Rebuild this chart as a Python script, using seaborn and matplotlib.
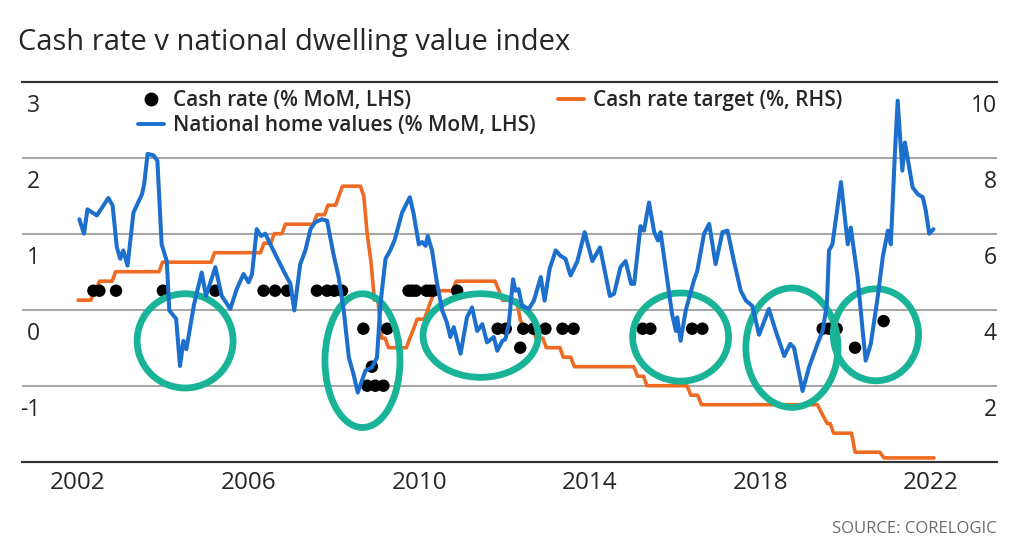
import numpy as np
import pandas as pd
import matplotlib
matplotlib.use("Agg")
import matplotlib.pyplot as plt
from matplotlib.patches import Ellipse
from matplotlib.lines import Line2D
import seaborn as sns

# ---------------- data ----------------
title = "Cash rate v national dwelling value index"
source = "SOURCE: CORELOGIC"
label_dots = "Cash rate (% MoM, LHS)"
label_home = "National home values (% MoM, LHS)"
label_target = "Cash rate target (%, RHS)"

x_ticks = [2002, 2006, 2010, 2014, 2018, 2022]
left_ticks = [3, 2, 1, 0, -1]
right_ticks = [10, 8, 6, 4, 2]

home_dates = [2002.03, 2002.14, 2002.22, 2002.44, 2002.71, 2002.81, 2002.91, 2002.99, 2003.06, 2003.16,
              2003.30, 2003.50, 2003.55, 2003.63, 2003.77, 2003.86, 2003.96, 2004.08, 2004.14, 2004.30,
              2004.39, 2004.47, 2004.54, 2004.72, 2004.90, 2005.00, 2005.22, 2005.37, 2005.57, 2005.72,
              2005.88, 2006.00, 2006.08, 2006.19, 2006.29, 2006.39, 2006.58, 2006.82, 2006.98, 2007.07,
              2007.21, 2007.33, 2007.45, 2007.56, 2007.72, 2007.84, 2007.99, 2008.11, 2008.23, 2008.35,
              2008.46, 2008.56, 2008.74, 2008.89, 2009.01, 2009.09, 2009.21, 2009.32, 2009.42, 2009.60,
              2009.78, 2009.87, 2009.99, 2010.07, 2010.15, 2010.20, 2010.30, 2010.42, 2010.54, 2010.65,
              2010.73, 2010.81, 2010.97, 2011.12, 2011.24, 2011.36, 2011.48, 2011.59, 2011.75, 2011.83,
              2011.95, 2012.02, 2012.10, 2012.20, 2012.26, 2012.33, 2012.41, 2012.57, 2012.69, 2012.85,
              2012.94, 2013.06, 2013.20, 2013.31, 2013.43, 2013.55, 2013.71, 2013.88, 2014.06, 2014.24,
              2014.47, 2014.57, 2014.72, 2014.84, 2014.97, 2015.04, 2015.19, 2015.27, 2015.39, 2015.51,
              2015.60, 2015.66, 2015.82, 2015.93, 2016.02, 2016.05, 2016.13, 2016.25, 2016.44, 2016.52,
              2016.68, 2016.80, 2016.95, 2017.11, 2017.23, 2017.38, 2017.54, 2017.66, 2017.81, 2017.97,
              2018.20, 2018.36, 2018.56, 2018.70, 2018.79, 2018.99, 2019.14, 2019.34, 2019.46, 2019.56,
              2019.61, 2019.69, 2019.89, 2020.05, 2020.12, 2020.28, 2020.40, 2020.47, 2020.59, 2020.75,
              2020.87, 2020.99, 2021.06, 2021.15, 2021.22, 2021.33, 2021.39, 2021.57, 2021.69, 2021.81,
              2021.88, 2021.96, 2022.06]
home_values = [1.19, 1.00, 1.32, 1.24, 1.47, 1.37, 0.82, 0.67, 0.78, 0.58,
               1.28, 1.52, 1.65, 2.05, 2.03, 1.96, 0.86, 0.64, -0.01, -0.12,
               -0.74, -0.41, -0.52, 0.07, 0.49, 0.18, 0.56, 0.18, 0.01, 0.27,
               0.47, 0.36, 0.47, 1.06, 0.97, 1.00, 0.78, 0.51, 0.34, -0.01,
               0.60, 0.78, 1.06, 1.15, 1.19, 1.17, 0.73, 0.43, -0.01, -0.63,
               -0.85, -1.09, -0.80, -0.76, -0.63, 0.07, 0.67, 0.78, 0.91, 1.28,
               1.48, 1.26, 0.86, 0.89, 0.84, 0.97, 0.78, 0.34, -0.01, -0.17,
               -0.36, -0.23, -0.58, -0.10, 0.03, -0.28, -0.19, -0.43, -0.36, -0.54,
               -0.41, -0.39, -0.19, 0.40, 0.25, 0.27, 0.05, 0.01, 0.12, 0.43,
               0.12, 0.54, 0.78, 0.71, 0.67, 0.45, 0.64, 1.02, 0.64, 0.82,
               0.18, 0.21, 0.56, 0.64, 0.34, 0.34, 1.10, 1.04, 1.41, 1.02,
               0.91, 1.02, 0.38, -0.06, -0.28, -0.10, -0.41, -0.01, 0.38, 0.51,
               1.00, 1.13, 0.60, 1.02, 1.04, 0.64, 0.25, 0.12, 0.05, -0.33,
               0.01, -0.28, -0.61, -0.45, -0.50, -1.07, -0.76, -0.45, -0.28, 0.07,
               0.78, 0.86, 1.68, 0.86, 1.08, 0.43, -0.28, -0.67, -0.45, 0.16,
               0.69, 1.04, 0.86, 2.00, 2.75, 1.83, 2.20, 1.61, 1.52, 1.48,
               1.30, 1.00, 1.06]

cash_dates = [2002.36, 2002.50, 2002.89, 2003.99, 2005.22, 2006.35, 2006.62, 2006.90, 2007.60, 2007.84,
              2008.01, 2008.19, 2008.69, 2008.78, 2008.89, 2008.97, 2009.16, 2009.25, 2009.75, 2009.83,
              2009.92, 2010.17, 2010.25, 2010.33, 2010.89, 2011.84, 2012.03, 2012.37, 2012.44, 2012.68,
              2012.96, 2013.36, 2013.62, 2015.24, 2015.42, 2016.40, 2016.64, 2019.46, 2019.61, 2019.79,
              2020.22, 2020.89]
cash_changes = [0.25, 0.25, 0.25, 0.25, 0.25, 0.25, 0.25, 0.25, 0.25, 0.25,
                0.25, 0.25, -0.25, -1.0, -0.75, -1.0, -1.0, -0.25, 0.25, 0.25,
                0.25, 0.25, 0.25, 0.25, 0.25, -0.25, -0.25, -0.5, -0.25, -0.25,
                -0.25, -0.25, -0.25, -0.25, -0.25, -0.25, -0.25, -0.25, -0.25, -0.25,
                -0.5, -0.15]

target_dates = [2002.00, 2002.30, 2002.38, 2002.42, 2002.50, 2002.80, 2002.88, 2003.90, 2003.98, 2005.12,
                2005.20, 2006.28, 2006.36, 2006.52, 2006.60, 2006.78, 2006.86, 2007.52, 2007.60, 2007.78,
                2007.86, 2008.04, 2008.12, 2008.20, 2008.62, 2008.70, 2008.78, 2008.87, 2008.95, 2009.03,
                2009.12, 2009.20, 2009.28, 2009.70, 2009.78, 2009.87, 2009.95, 2010.12, 2010.20, 2010.28,
                2010.37, 2010.78, 2010.87, 2011.78, 2011.87, 2011.95, 2012.28, 2012.37, 2012.45, 2012.66,
                2012.74, 2012.90, 2012.98, 2013.30, 2013.38, 2013.55, 2013.64, 2015.03, 2015.12, 2015.26,
                2015.34, 2016.28, 2016.37, 2016.53, 2016.62, 2019.34, 2019.45, 2019.57, 2019.64, 2019.72,
                2020.14, 2020.22, 2020.80, 2020.90, 2022.07]
target_values = [4.25, 4.25, 4.5, 4.5, 4.75, 4.75, 5.0, 5.0, 5.25, 5.25,
                 5.5, 5.5, 5.75, 5.75, 6.0, 6.0, 6.25, 6.25, 6.5, 6.5,
                 6.75, 6.75, 7.0, 7.25, 7.25, 7.0, 6.0, 5.25, 4.25, 4.25,
                 3.25, 3.25, 3.0, 3.0, 3.25, 3.5, 3.75, 3.75, 4.0, 4.25,
                 4.5, 4.5, 4.75, 4.75, 4.5, 4.25, 4.25, 3.75, 3.5, 3.5,
                 3.25, 3.25, 3.0, 3.0, 2.75, 2.75, 2.5, 2.5, 2.25, 2.25,
                 2.0, 2.0, 1.75, 1.75, 1.5, 1.5, 1.25, 1.0, 1.0, 0.75,
                 0.75, 0.25, 0.25, 0.1, 0.1]

# highlight rings (centre year, centre LHS value, width in years, height in LHS units)
ring_x = [2004.51, 2008.67, 2011.44, 2016.13, 2018.74, 2020.71]
ring_y = [-0.41, -0.67, -0.34, -0.36, -0.50, -0.33]
ring_w = [2.25, 1.76, 2.70, 2.25, 2.16, 2.00]
ring_h = [1.24, 1.76, 1.10, 1.16, 1.57, 1.21]

# ---------------- style ----------------
BLUE = "#1c6fcd"
ORANGE = "#ef6a22"
TEAL = "#19b498"
TXT = "#262626"

sns.set_style("white")
plt.rcParams["font.family"] = ["Open Sans", "DejaVu Sans"]

W, H = 1024, 552
fig = plt.figure(figsize=(W / 100, H / 100), dpi=100)
ax_l, ax_r, ax_t, ax_b = 22, 997, 81.7, 461.7
ax = fig.add_axes([ax_l / W, 1 - ax_b / H, (ax_r - ax_l) / W, (ax_b - ax_t) / H])
ax2 = ax.twinx()
ax.set_zorder(ax2.get_zorder() + 1)
ax.patch.set_visible(False)

home_df = pd.DataFrame({"date": home_dates, "value": home_values})
cash_df = pd.DataFrame({"date": cash_dates, "change": cash_changes})
target_df = pd.DataFrame({"date": target_dates, "rate": target_values})

# RHS: cash rate target
sns.lineplot(data=target_df, x="date", y="rate", ax=ax2, color=ORANGE, lw=2.6,
             estimator=None, sort=False, legend=False)
# LHS: dots, rings, home values
sns.scatterplot(data=cash_df, x="date", y="change", ax=ax, color="black", s=80,
                edgecolor="none", zorder=3, legend=False)
for cx, cy, w, h in zip(ring_x, ring_y, ring_w, ring_h):
    ax.add_patch(Ellipse((cx, cy), w, h, fill=False, edgecolor=TEAL, lw=4.9, zorder=4))
sns.lineplot(data=home_df, x="date", y="value", ax=ax, color=BLUE, lw=2.9,
             estimator=None, sort=False, legend=False, zorder=5)

xmin = 2002 - (78 - ax_l) / 42.6
xmax = 2022 + (ax_r - 931) / 42.6
ax.set_xlim(xmin, xmax)
ax.set_ylim(-2, 3)
ax2.set_ylim(0, 10)

# grid
ax2.set_yticks([0, 2, 4, 6, 8, 10])
ax2.set_xticks(x_ticks)
ax2.grid(axis="y", color="#8c8c8c", lw=1.1)
ax2.grid(axis="x", color="#9a9a9a", lw=1.5, linestyle=(0, (0.8, 3.2)))
ax.grid(False)
for a in (ax, ax2):
    a.set_xlabel("")
    a.set_ylabel("")
    a.tick_params(length=0)
    for s in ("left", "right"):
        a.spines[s].set_visible(False)
    a.spines["top"].set_color("#333333")
    a.spines["bottom"].set_color("#333333")
    a.spines["top"].set_linewidth(1.5)
    a.spines["bottom"].set_linewidth(1.5)
ax2.set_yticklabels([])
ax.set_yticks([])
ax.set_xticks(x_ticks)
ax.set_xticklabels([str(x) for x in x_ticks], fontsize=17.5, color=TXT)
ax.tick_params(axis="x", pad=6.5)

# axis value labels sitting just below each gridline
for v in left_ticks:
    ax.annotate(str(v), xy=((40 - ax_l) / (ax_r - ax_l), v),
                xycoords=("axes fraction", "data"), xytext=(0, -21.5), textcoords="offset points",
                ha="right", va="baseline", fontsize=16.5, color=TXT)
for v in right_ticks:
    ax2.annotate(str(v), xy=(1.0, v), xycoords=("axes fraction", "data"),
                 xytext=(0, -21.5), textcoords="offset points",
                 ha="right", va="baseline", fontsize=16.5, color=TXT)

# legends
h_dot = Line2D([], [], marker="o", ls="none", color="black", markersize=9)
h_home = Line2D([], [], color=BLUE, lw=2.8)
h_target = Line2D([], [], color=ORANGE, lw=2.8)
leg1 = ax.legend([h_dot, h_home], [label_dots, label_home], loc="upper left",
                 bbox_to_anchor=(138 / W, 1 - 90 / H), bbox_transform=fig.transFigure,
                 frameon=False, fontsize=15, handlelength=1.25, handletextpad=0.45,
                 labelspacing=0.2, borderpad=0, borderaxespad=0)
for t in leg1.get_texts():
    t.set_fontweight("semibold")
    t.set_color(TXT)
ax.add_artist(leg1)
leg2 = ax.legend([h_target], [label_target], loc="upper left",
                 bbox_to_anchor=(558 / W, 1 - 90 / H), bbox_transform=fig.transFigure,
                 frameon=False, fontsize=15, handlelength=1.25, handletextpad=0.45,
                 borderpad=0, borderaxespad=0)
for t in leg2.get_texts():
    t.set_fontweight("semibold")
    t.set_color(TXT)

fig.text(18 / W, 1 - 50 / H, title, fontsize=21, color=TXT, ha="left", va="baseline")
fig.text(997 / W, 1 - 533 / H, source, fontsize=12, color="#6b6b6b", ha="right", va="baseline")

fig.savefig("out.png", dpi=100)
